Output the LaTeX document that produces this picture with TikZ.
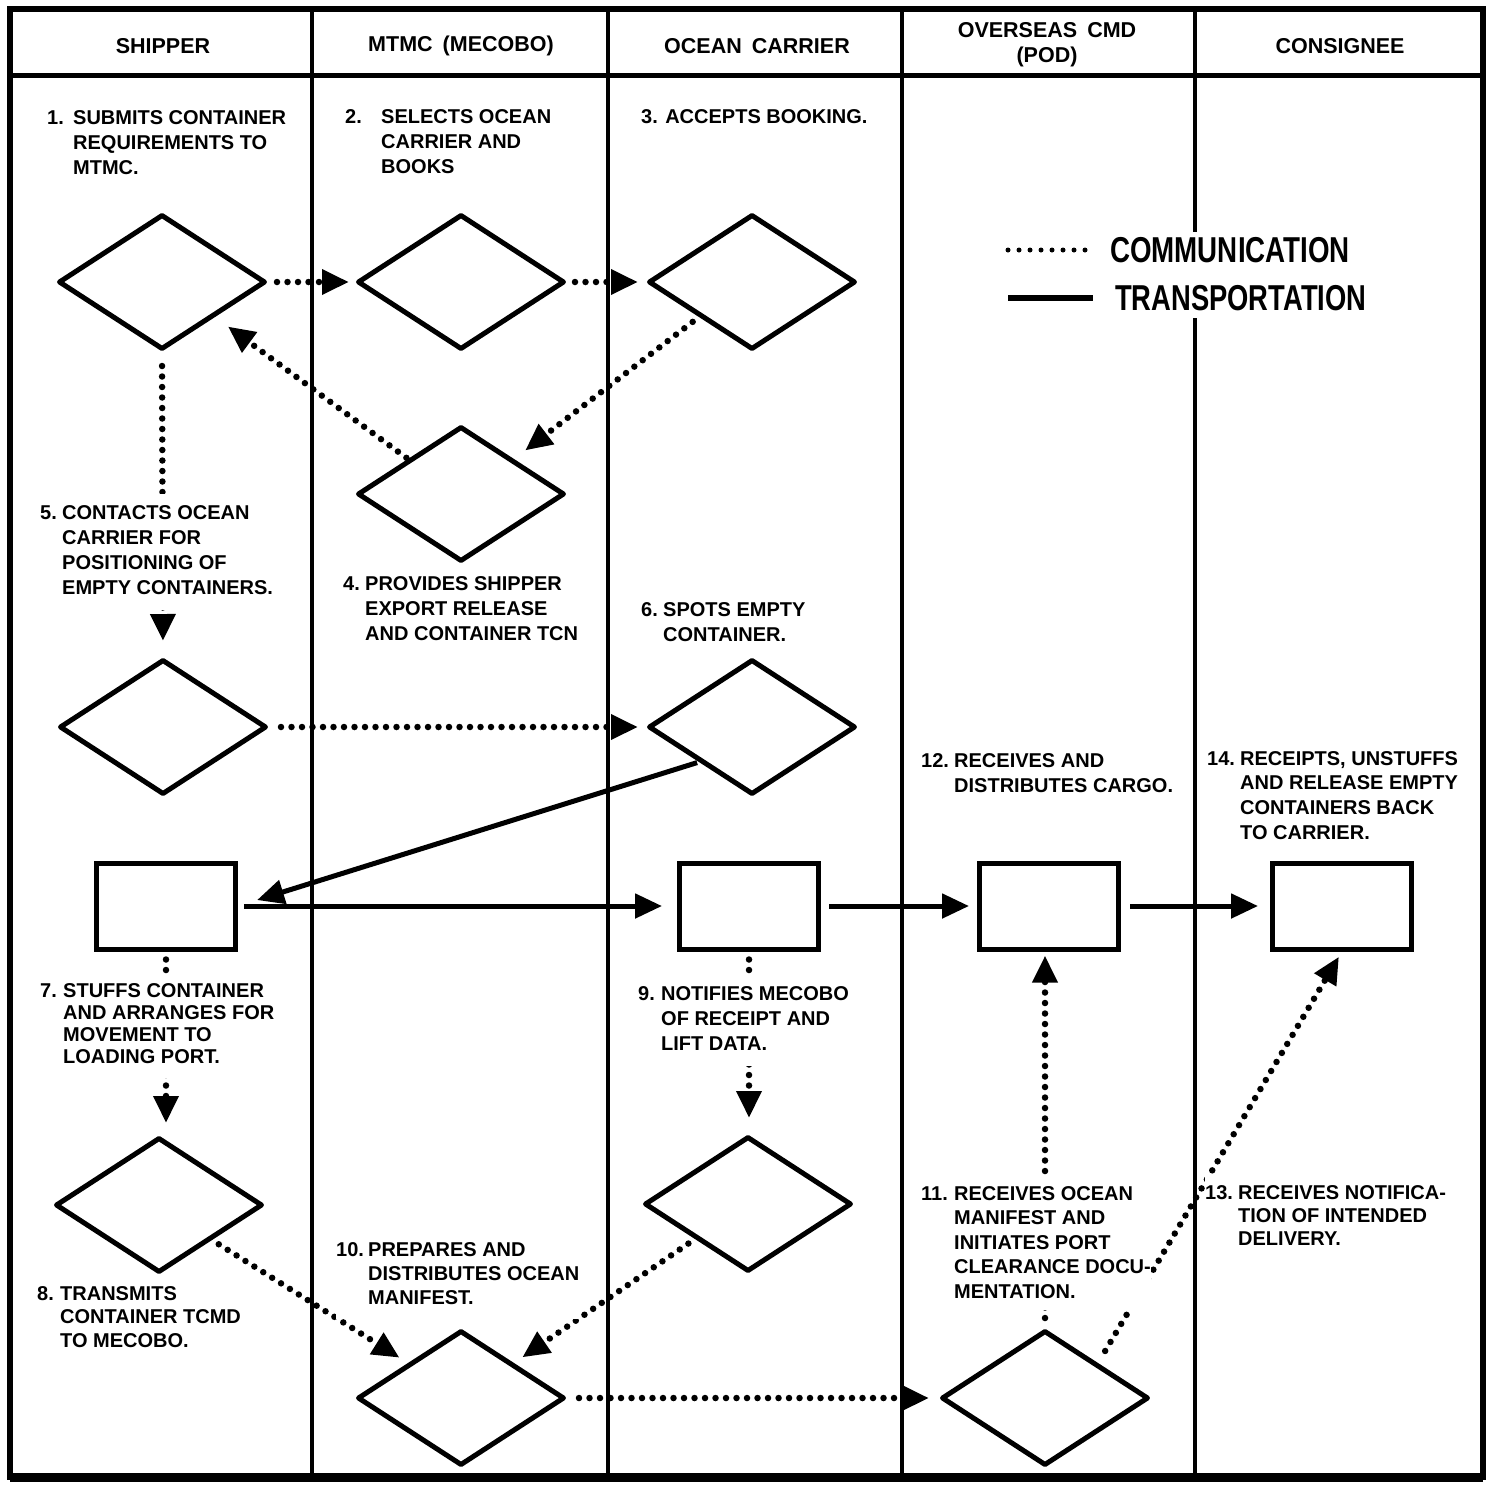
\documentclass[tikz,border=0pt]{standalone}
\usepackage{fontspec}
\setmainfont{Liberation Sans}
\usepackage{graphicx}
\usetikzlibrary{shapes.geometric,arrows.meta,calc}
\begin{document}
\begin{tikzpicture}[x=1pt,y=-1pt,
  dia/.style={diamond,draw,line width=5pt,line join=round,minimum width=207pt,minimum height=135pt,inner sep=0pt},
  box/.style={rectangle,draw,line width=5pt,minimum width=139pt,minimum height=86pt,inner sep=0pt},
  tip/.style={-{Triangle[length=27pt,width=24pt]}},
  comm/.style={tip,line width=6.5pt,line cap=round,dash pattern=on 0pt off 10.5pt},
  trans/.style={tip,line width=5pt},
  lbl/.style={anchor=base west,inner xsep=0pt,inner ysep=8pt,fill=white,font=\bfseries\fontsize{20}{25}\selectfont},
  hdr/.style={font=\bfseries\fontsize{21.5}{25}\selectfont,align=center},
  rule/.style={line width=4pt},
  legendtxt/.style={anchor=west,inner sep=0pt,font=\bfseries\fontsize{36}{36}\selectfont}
]
\useasboundingbox (0,0) rectangle (1493,1492);
% frame and lanes
\draw[line width=6pt] (10,9) rectangle (1483,1477);
\draw[line width=9pt] (10,1477) -- (1483,1477);
\draw[line width=5pt] (10,75) -- (1483,75);
\draw[rule] (312,9) -- (312,1477);
\draw[rule] (608,9) -- (608,1477);
\draw[rule] (902,9) -- (902,1477);
\draw[rule] (1195,9) -- (1195,232);
\draw[rule] (1195,318) -- (1195,1477);
% headers
\node[hdr] (h1) at (163,46) {SHIPPER};
\node[hdr] (h2) at (461,46) {MTMC\hspace{10pt}(MECOBO)};
\node[hdr] (h3) at (757,46) {OCEAN\hspace{10pt}CARRIER};
\node[hdr] (h4) at (1047,45) {OVERSEAS\hspace{10pt}CMD\\(POD)};
\node[hdr] (h5) at (1340,46) {CONSIGNEE};
% legend
\coordinate (lc1) at (1008,250);
\coordinate (lc2) at (1088,250);
\coordinate (lt1) at (1008,298);
\coordinate (lt2) at (1093,298);
\draw[line width=5pt,line cap=round,dash pattern=on 0pt off 11pt] (lc1) -- (lc2);
\draw[line width=6pt] (lt1) -- (lt2);
\node[legendtxt] (lg1) at (1110,250) {\scalebox{0.77}[1]{COMMUNICATION}};
\node[legendtxt] (lg2) at (1115,298) {\scalebox{0.76}[1]{TRANSPORTATION}};
% shapes
\node[dia] (d1) at (162,282) {};
\node[dia] (d2) at (461,282) {};
\node[dia] (d3) at (752,282) {};
\node[dia] (d4) at (461,494) {};
\node[dia] (d5) at (163,727) {};
\node[dia] (d6) at (752,727) {};
\node[dia] (d8) at (159,1205) {};
\node[dia] (d9) at (748,1204) {};
\node[dia] (d10) at (461,1398) {};
\node[dia] (d11) at (1045,1398) {};
\node[box] (r7) at (166,906) {};
\node[box] (r9) at (749,906) {};
\node[box] (r12) at (1049,906) {};
\node[box] (r14) at (1342,906) {};
% communication
\draw[comm,shorten <=9pt,shorten >=6pt] (d1.east) -- (d2.west);
\draw[comm,shorten <=8pt,shorten >=8pt] (d2.east) -- (d3.west);
\draw[comm,shorten <=8pt,shorten >=14pt] (d3.south west) -- (d4.north east);
\draw[comm,shorten <=2pt,shorten >=16pt] (d4.north west) -- (d1.south east);
\draw[comm,shorten <=14pt,shorten >=16pt] (d1.south) -- (d5.north);
\draw[comm,shorten <=12pt,shorten >=8pt] (d5.east) -- (d6.west);
\draw[comm,shorten <=8pt,shorten >=12pt] (r7.south) -- (r7.south |- d8.north);
\draw[comm,shorten <=8pt,shorten >=16pt] (r9.south) -- (r9.south |- d9.north);
\draw[comm,shorten <=8pt,shorten >=10pt] (d8.south east) -- (d10.north west);
\draw[comm,shorten <=8pt,shorten >=10pt] (d9.south west) -- (d10.north east);
\draw[comm,shorten <=12pt,shorten >=10pt] (d10.east) -- (d11.west);
\draw[comm,shorten <=10pt,shorten >=4pt] (d11.north) -- (d11.north |- r12.south);
\draw[comm,shorten <=14pt,shorten >=6pt] (d11.north east) -- (r14.south);
% transportation
\draw[trans,shorten <=2pt,shorten >=20pt] (d6.south west) -- (r7.east);
\draw[trans,shorten <=6pt,shorten >=15pt] (r7.east) -- (r9.west);
\draw[trans,shorten <=8pt,shorten >=8pt] (r9.east) -- (r12.west);
\draw[trans,shorten <=9pt,shorten >=12pt] (r12.east) -- (r14.west);
% step texts
\node[lbl] (t1) at (47,124) {\begin{tabular}[t]{@{}p{26pt}@{}l@{}}1. & SUBMITS CONTAINER\\ & REQUIREMENTS TO\\ & MTMC.\end{tabular}};
\node[lbl] (t2) at (345,123) {\begin{tabular}[t]{@{}p{36pt}@{}l@{}}2. & SELECTS OCEAN\\ & CARRIER AND\\ & BOOKS\end{tabular}};
\node[lbl] (t3) at (641,123) {3. ACCEPTS BOOKING.};
\node[lbl] (t5) at (40,519) {\begin{tabular}[t]{@{}p{22pt}@{}l@{}}5. & CONTACTS OCEAN\\ & CARRIER FOR\\ & POSITIONING OF\\ & EMPTY CONTAINERS.\end{tabular}};
\node[lbl] (t4) at (343,590) {\begin{tabular}[t]{@{}p{22pt}@{}l@{}}4. & PROVIDES SHIPPER\\ & EXPORT RELEASE\\ & AND CONTAINER TCN\end{tabular}};
\node[lbl] (t6) at (641,616) {\begin{tabular}[t]{@{}p{22pt}@{}l@{}}6. & SPOTS EMPTY\\ & CONTAINER.\end{tabular}};
\node[lbl] (t12) at (921,767) {\begin{tabular}[t]{@{}p{33pt}@{}l@{}}12. & RECEIVES AND\\ & DISTRIBUTES CARGO.\end{tabular}};
\node[lbl,font=\bfseries\fontsize{20}{24.7}\selectfont] (t14) at (1207,765) {\begin{tabular}[t]{@{}p{33pt}@{}l@{}}14. & RECEIPTS, UNSTUFFS\\ & AND RELEASE EMPTY\\ & CONTAINERS BACK\\ & TO CARRIER.\end{tabular}};
\node[lbl,font=\bfseries\fontsize{20}{22}\selectfont] (t7) at (40,997) {\begin{tabular}[t]{@{}p{23pt}@{}l@{}}7. & STUFFS CONTAINER\\ & AND ARRANGES FOR\\ & MOVEMENT TO\\ & LOADING PORT.\end{tabular}};
\node[lbl] (t9) at (638,1000) {\begin{tabular}[t]{@{}p{23pt}@{}l@{}}9. & NOTIFIES MECOBO\\ & OF RECEIPT AND\\ & LIFT DATA.\end{tabular}};
\node[lbl,font=\bfseries\fontsize{20}{23.5}\selectfont] (t8) at (37,1300) {\begin{tabular}[t]{@{}p{23pt}@{}l@{}}8. & TRANSMITS\\ & CONTAINER TCMD\\ & TO MECOBO.\end{tabular}};
\node[lbl,font=\bfseries\fontsize{20}{24}\selectfont] (t10) at (336,1256) {\begin{tabular}[t]{@{}p{32pt}@{}l@{}}10. & PREPARES AND\\ & DISTRIBUTES OCEAN\\ & MANIFEST.\end{tabular}};
\node[lbl,inner ysep=5pt,font=\bfseries\fontsize{20}{24.5}\selectfont] (t11) at (921,1200) {\begin{tabular}[t]{@{}p{33pt}@{}l@{}}11. & RECEIVES OCEAN\\ & MANIFEST AND\\ & INITIATES PORT\\ & CLEARANCE DOCU-\\ & MENTATION.\end{tabular}};
\node[lbl,font=\bfseries\fontsize{20}{23}\selectfont] (t13) at (1205,1199) {\begin{tabular}[t]{@{}p{33pt}@{}l@{}}13. & RECEIVES NOTIFICA-\\ & TION OF INTENDED\\ & DELIVERY.\end{tabular}};
\end{tikzpicture}
\end{document}
